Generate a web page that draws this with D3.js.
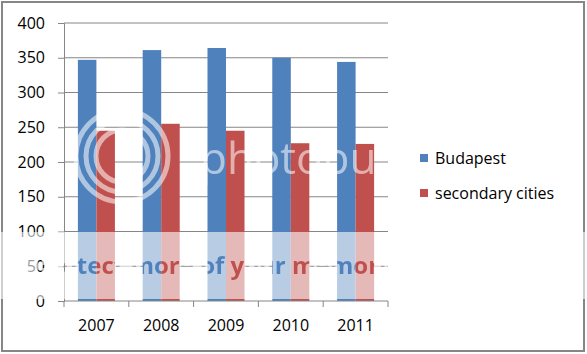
<!DOCTYPE html>
<html lang="en">
  <head>
    <meta charset="utf-8">
    <title>Budapest vs secondary cities</title>
    <script src="https://d3js.org/d3.v7.js"></script>
    <style>
      body { margin: 0; background: #fff; }
      text { font-family: "Open Sans", sans-serif; fill: #000; }
    </style>
  </head>

  <body>
    <script>
      // Data
      const years = ["2007", "2008", "2009", "2010", "2011"];
      const seriesNames = ["Budapest", "secondary cities"];
      const budapest = [347, 361, 364, 350, 344];
      const secondary = [245, 255, 245, 227, 226];
      const yTicks = [0, 50, 100, 150, 200, 250, 300, 350, 400];

      const w = 587;
      const h = 354;
      const colors = ["#4F81BD", "#C0504D"];
      const gridColor = "#868686";

      const plot = { left: 64, right: 388, top: 23, bottom: 301 };

      const svg = d3.select("body")
        .append("svg")
        .attr("width", w)
        .attr("height", h);

      // outer frame
      svg.append("rect")
        .attr("x", 2)
        .attr("y", 2)
        .attr("width", w - 5)
        .attr("height", h - 5)
        .attr("fill", "#fff")
        .attr("stroke", gridColor)
        .attr("stroke-width", 2);

      const xScale = d3.scaleBand()
        .domain(years)
        .range([plot.left, plot.right]);

      const xInner = d3.scaleBand()
        .domain(seriesNames)
        .range([0, xScale.bandwidth()])
        .paddingOuter(0.75);

      const yScale = d3.scaleLinear()
        .domain([0, 400])
        .range([plot.bottom, plot.top]);

      // gridlines
      svg.append("g")
        .selectAll("line")
        .data(yTicks.filter(d => d > 0))
        .enter().append("line")
        .attr("x1", plot.left)
        .attr("x2", plot.right)
        .attr("y1", d => yScale(d))
        .attr("y2", d => yScale(d))
        .attr("stroke", gridColor)
        .attr("stroke-width", 1);

      // bars
      const series = [budapest, secondary];
      const groups = svg.append("g")
        .attr("id", "plot")
        .selectAll("g")
        .data(years)
        .enter().append("g")
        .attr("transform", d => `translate(${xScale(d)},0)`);

      groups.selectAll("rect")
        .data((d, i) => series.map((s, k) => ({ name: seriesNames[k], value: s[i], k })))
        .enter().append("rect")
        .attr("x", d => xInner(d.name))
        .attr("y", d => yScale(d.value))
        .attr("width", xInner.bandwidth())
        .attr("height", d => yScale(0) - yScale(d.value))
        .attr("fill", d => colors[d.k]);

      // axes
      const yAxis = d3.axisLeft(yScale)
        .tickValues(yTicks)
        .tickSize(6)
        .tickPadding(13);

      const xAxis = d3.axisBottom(xScale)
        .tickSize(0)
        .tickPadding(19);

      const yG = svg.append("g")
        .attr("transform", `translate(${plot.left},0)`)
        .call(yAxis);

      const xG = svg.append("g")
        .attr("transform", `translate(0,${plot.bottom})`)
        .call(xAxis);

      // category boundary ticks
      xG.selectAll(".bound")
        .data(years.concat(["end"]))
        .enter().append("line")
        .attr("class", "bound")
        .attr("x1", (d, i) => i < years.length ? xScale(d) : plot.right)
        .attr("x2", (d, i) => i < years.length ? xScale(d) : plot.right)
        .attr("y1", 0)
        .attr("y2", 6)
        .attr("stroke", gridColor);

      [yG, xG].forEach(g => {
        g.select(".domain").attr("stroke", gridColor);
        g.selectAll(".tick line").attr("stroke", gridColor);
        g.selectAll("text")
          .attr("font-family", "Open Sans, sans-serif")
          .attr("font-size", 16)
          .attr("fill", "#000");
      });
      xG.select(".domain").attr("d", `M${plot.left},0H${plot.right}`);

      // legend
      const legend = svg.append("g")
        .attr("transform", "translate(420,0)");

      const legendY = [158, 193];
      seriesNames.forEach((name, i) => {
        legend.append("rect")
          .attr("x", 0)
          .attr("y", legendY[i] - 4)
          .attr("width", 8)
          .attr("height", 8)
          .attr("fill", colors[i]);
        legend.append("text")
          .attr("x", 15)
          .attr("y", legendY[i])
          .attr("dy", "0.35em")
          .attr("font-size", 16)
          .text(name);
      });

      // photobucket watermark over the picture
      const defs = svg.append("defs");
      defs.append("clipPath").attr("id", "plotclip")
        .append("rect")
        .attr("x", plot.left).attr("y", plot.top)
        .attr("width", plot.right - plot.left)
        .attr("height", plot.bottom - plot.top);

      const mask = defs.append("mask").attr("id", "wmask");
      mask.append("rect")
        .attr("x", 0).attr("y", 0).attr("width", w).attr("height", h)
        .attr("fill", "#fff");
      mask.append("text")
        .attr("x", 36)
        .attr("y", 274)
        .attr("font-size", 24)
        .attr("font-weight", "bold")
        .attr("style", "fill:#000")
        .text("Protect more of your memories");

      const wm = svg.append("g").attr("pointer-events", "none");

      wm.append("rect")
        .attr("x", 0)
        .attr("y", 232)
        .attr("width", w)
        .attr("height", 67)
        .attr("fill", "#fff")
        .attr("opacity", 0.6)
        .attr("mask", "url(#wmask)");

      const logo = wm.append("g").attr("clip-path", "url(#plotclip)");

      [46, 36, 26].forEach(r => {
        logo.append("circle")
          .attr("cx", 122)
          .attr("cy", 156)
          .attr("r", r)
          .attr("fill", "none")
          .attr("stroke", "#fff")
          .attr("stroke-width", 5)
          .attr("opacity", 0.55);
      });

      logo.append("text")
        .attr("x", 200)
        .attr("y", 174)
        .attr("font-size", 44)
        .attr("style", "fill:#fff")
        .attr("opacity", 0.55)
        .text("photobu");
    </script>
  </body>
</html>
